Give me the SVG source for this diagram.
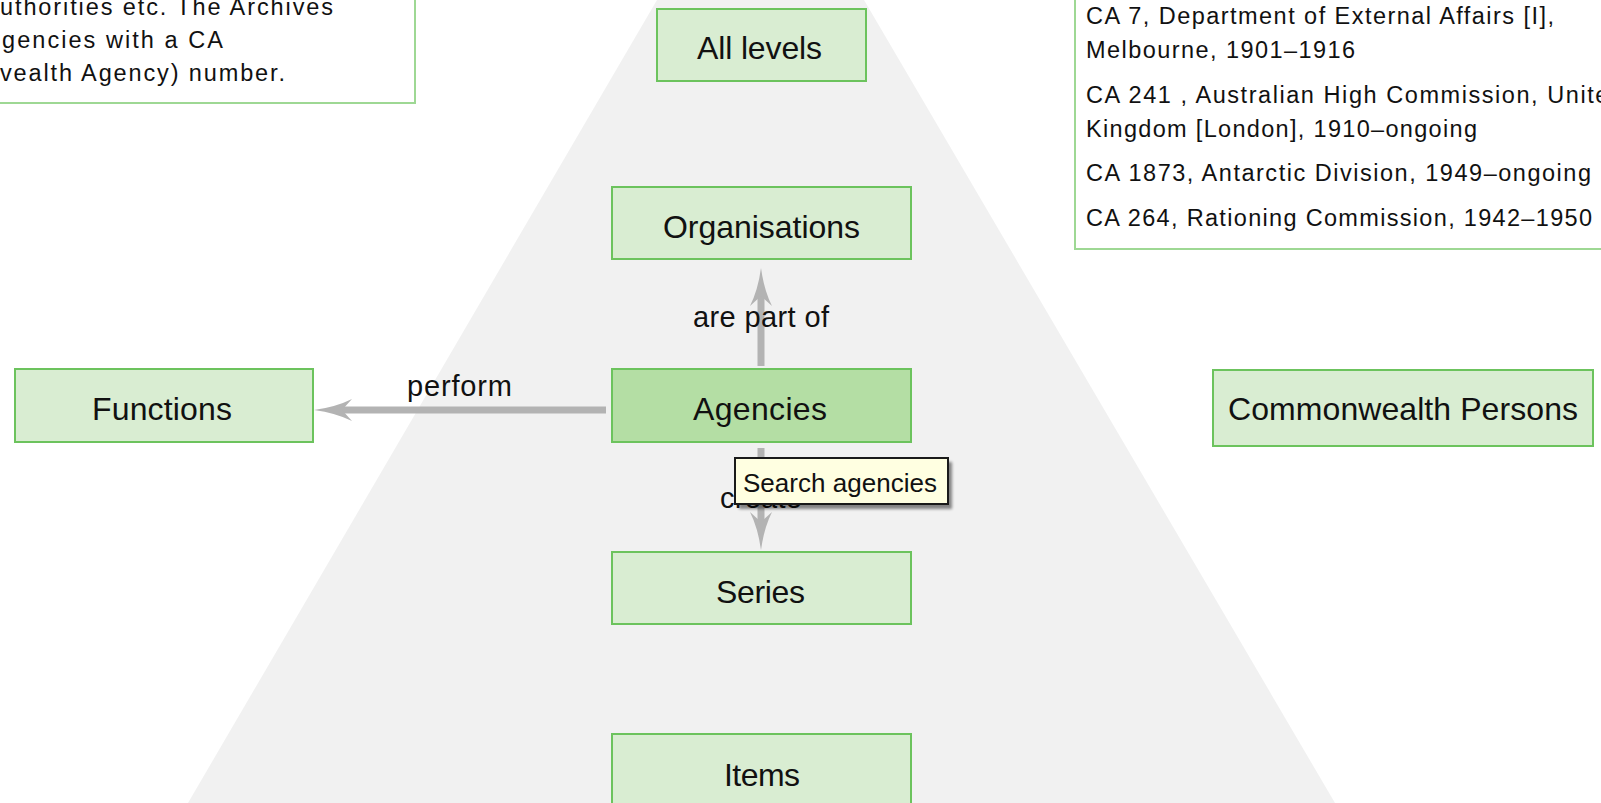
<svg xmlns="http://www.w3.org/2000/svg" width="1601" height="803" viewBox="0 0 1601 803">
<style>
  .bg { fill: #ffffff; }
  .pyr { fill: #f1f1f1; }
  .info { fill: #ffffff; stroke: #9ed894; stroke-width: 2; }
  .itxt { font-family: "Liberation Sans", Arial, sans-serif; font-size: 23.5px; fill: #111111; }
  .node rect { fill: #d9edd2; stroke: #6cc35d; stroke-width: 2; }
  .node.sel rect { fill: #b4dea4; }
  .ntxt { font-family: "Liberation Sans", Arial, sans-serif; font-size: 32px; fill: #111111; }
  .conn { stroke: #b3b3b3; stroke-width: 7; fill: none; }
  .ltxt { font-family: "Liberation Sans", Arial, sans-serif; font-size: 29px; fill: #111111; }
  .tip { fill: #ffffe1; stroke: #1a1a1a; stroke-width: 2; }
  .tipsh { fill: #000000; opacity: 0.45; }
  .ttxt { font-family: "Liberation Sans", Arial, sans-serif; font-size: 26px; fill: #111111; }
</style>
<defs>
  <marker id="arr" markerUnits="userSpaceOnUse" markerWidth="38" markerHeight="22" viewBox="0 0 38 22" refX="10" refY="11" orient="auto">
    <path d="M38,11 Q16,8 0,0 L10,11 L0,22 Q16,14 38,11 Z" fill="#b3b3b3"/>
  </marker>
  <filter id="blur" x="-10%" y="-20%" width="130%" height="150%">
    <feGaussianBlur stdDeviation="1.5"/>
  </filter>
</defs>
<rect class="bg" x="0" y="0" width="1601" height="803"/>
<polygon class="pyr" points="657,0 864,0 1335,803 188,803"/>

<g id="info-left">
  <rect class="info" x="-10" y="-10" width="425" height="113"/>
  <text class="itxt" x="0" y="15" textLength="333">uthorities etc. The Archives</text>
  <text class="itxt" x="2" y="48" textLength="221">gencies with a CA</text>
  <text class="itxt" x="0" y="81" textLength="285">vealth Agency) number.</text>
</g>

<g id="info-right">
  <rect class="info" x="1075" y="-10" width="600" height="259"/>
  <text class="itxt" x="1086" y="24" textLength="468">CA 7, Department of External Affairs [I],</text>
  <text class="itxt" x="1086" y="58" textLength="269">Melbourne, 1901–1916</text>
  <text class="itxt" x="1086" y="103" textLength="537">CA 241 , Australian High Commission, United</text>
  <text class="itxt" x="1086" y="137" textLength="391">Kingdom [London], 1910–ongoing</text>
  <text class="itxt" x="1086" y="181" textLength="505">CA 1873, Antarctic Division, 1949–ongoing</text>
  <text class="itxt" x="1086" y="226" textLength="506">CA 264, Rationing Commission, 1942–1950</text>
</g>

<g id="connectors">
  <line class="conn" x1="761" y1="366" x2="761" y2="296" marker-end="url(#arr)"/>
  <line class="conn" x1="606" y1="410" x2="342" y2="410" marker-end="url(#arr)"/>
  <line class="conn" x1="761" y1="448" x2="761" y2="522" marker-end="url(#arr)"/>
  <text class="ltxt" x="693" y="327" textLength="136">are part of</text>
  <text class="ltxt" x="407" y="396" textLength="105">perform</text>
  <text class="ltxt" x="720" y="508" textLength="82">create</text>
</g>

<g id="node-all-levels" class="node">
  <rect x="657" y="9" width="209" height="72"/>
  <text class="ntxt" x="697" y="59" textLength="125">All levels</text>
</g>
<g id="node-organisations" class="node">
  <rect x="612" y="187" width="299" height="72"/>
  <text class="ntxt" x="663" y="238" textLength="197">Organisations</text>
</g>
<g id="node-agencies" class="node sel">
  <rect x="612" y="369" width="299" height="73"/>
  <text class="ntxt" x="693" y="420" textLength="134">Agencies</text>
</g>
<g id="node-series" class="node">
  <rect x="612" y="552" width="299" height="72"/>
  <text class="ntxt" x="716" y="603" textLength="89">Series</text>
</g>
<g id="node-items" class="node">
  <rect x="612" y="734" width="299" height="80"/>
  <text class="ntxt" x="724" y="786" textLength="76">Items</text>
</g>
<g id="node-functions" class="node">
  <rect x="15" y="369" width="298" height="73"/>
  <text class="ntxt" x="92" y="420" textLength="140">Functions</text>
</g>
<g id="node-commonwealth-persons" class="node">
  <rect x="1213" y="370" width="380" height="76"/>
  <text class="ntxt" x="1228" y="420" textLength="350">Commonwealth Persons</text>
</g>

<g id="tooltip">
  <rect class="tipsh" x="739" y="462" width="213" height="47" filter="url(#blur)"/>
  <rect class="tip" x="735" y="458" width="213" height="46"/>
  <text class="ttxt" x="743" y="492" textLength="194">Search agencies</text>
</g>
</svg>
